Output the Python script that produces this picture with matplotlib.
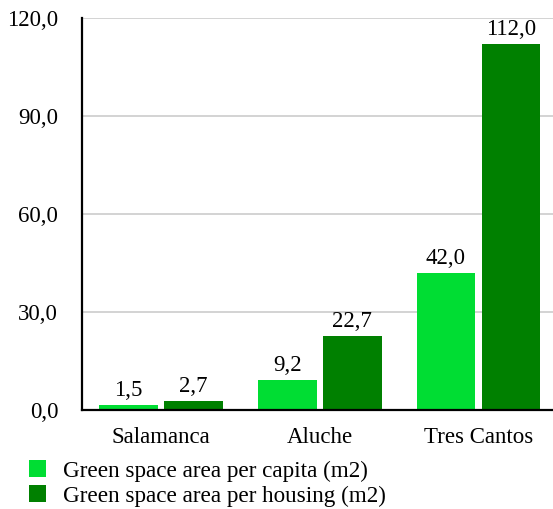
import numpy as np
import matplotlib.pyplot as plt

plt.rcParams['font.family'] = ['Liberation Serif', 'DejaVu Serif']

# green space per district
districts = ['Salamanca', 'Aluche', 'Tres Cantos']
per_capita = [1.5, 9.2, 42.0]
per_housing = [2.7, 22.7, 112.0]
series_names = ['Green space area per capita (m2)', 'Green space area per housing (m2)']
yticks = [0, 30, 60, 90, 120]

light = '#00dd33'
dark = '#008000'
fs = 16.5

fig = plt.figure(figsize=(5.53, 5.09), dpi=100)
ax = fig.add_axes([0.148, 0.1945, 0.852, 0.770])

x = np.arange(len(districts))
w = 0.37
gap = 0.04
b1 = ax.bar(x - w/2 - gap/2, per_capita, w, color=light, label=series_names[0], zorder=3)
b2 = ax.bar(x + w/2 + gap/2, per_housing, w, color=dark, label=series_names[1], zorder=3)

def fmt(v):
    return f'{v:.1f}'.replace('.', ',')

for bars, vals in [(b1, per_capita), (b2, per_housing)]:
    for r, v in zip(bars, vals):
        ax.annotate(fmt(v), (r.get_x() + r.get_width()/2, v), xytext=(0, 3),
                    textcoords='offset points', ha='center', va='bottom', fontsize=fs)

ax.set_ylim(0, 120)
ax.set_xlim(-0.5, 2.47)
ax.set_yticks(yticks)
ax.set_yticklabels([fmt(t) for t in yticks], fontsize=fs)
ax.set_xticks(x)
ax.set_xticklabels(districts, fontsize=fs)
ax.tick_params(axis='x', length=0, pad=12)
ax.tick_params(axis='y', length=0, pad=17)
ax.yaxis.grid(True, color='#cccccc', lw=1.2, zorder=0)
for s in ['top', 'right']:
    ax.spines[s].set_visible(False)
for s in ['left', 'bottom']:
    ax.spines[s].set_linewidth(1.6)
    ax.spines[s].set_zorder(4)

fig.legend(handles=[b1, b2], loc='upper left', bbox_to_anchor=(0.031, 0.119),
           frameon=False, fontsize=16.7, handlelength=0.75, handleheight=0.75,
           handletextpad=0.72, labelspacing=0.15, borderpad=0)

fig.savefig('out.png', dpi=100)
